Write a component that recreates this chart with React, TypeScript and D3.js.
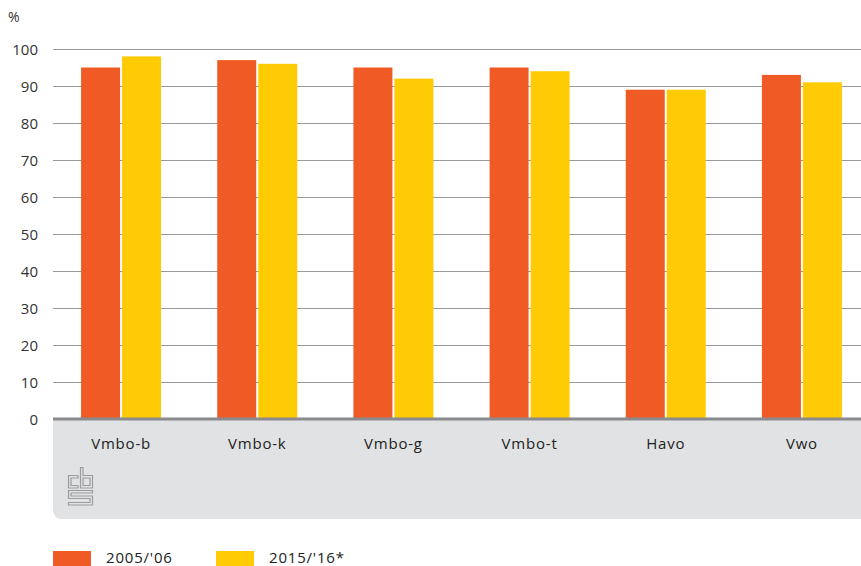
import React from "react";
import * as d3 from "d3";

const categories = ["Vmbo-b", "Vmbo-k", "Vmbo-g", "Vmbo-t", "Havo", "Vwo"];
const series2005 = [95, 97, 95, 95, 89, 93];
const series2015 = [98, 96, 92, 94, 89, 91];
const seriesNames = ["2005/'06", "2015/'16*"];
const yTicks = [0, 10, 20, 30, 40, 50, 60, 70, 80, 90, 100];

const W = 861;
const H = 566;
const FONT = "'Open Sans', 'DejaVu Sans', sans-serif";

export default function App() {
  const x = d3.scaleBand<string>().domain(categories).range([53, 870]).paddingInner(0).paddingOuter(0);
  const y = d3.scaleLinear().domain([0, 100]).range([419, 49]);
  const barW = 39;
  const gap = 2;
  const colors = ["#f05a24", "#ffcb05"];

  return (
    <svg width={W} height={H} style={{ position: "absolute", left: 0, top: 0 }} fontFamily={FONT}>
      <rect x={0} y={0} width={W} height={H} fill="#fff" />
      {/* grey label box */}
      <path d={`M53,420 H${W} V519 H63 Q53,519 53,509 Z`} fill="#e1e2e4" />
      {/* gridlines */}
      {yTicks.filter((t) => t > 0).map((t) => (
        <line key={t} x1={53} x2={W} y1={y(t) + 0.5} y2={y(t) + 0.5} stroke="#9a9a9a" strokeWidth={1} />
      ))}
      {yTicks.map((t) => (
        <text key={"l" + t} x={38} y={y(t) + 6} textAnchor="end" fontSize={15} fill="#333">{t}</text>
      ))}
      <text x={8} y={22} fontSize={14} fill="#333">%</text>
      {/* bars */}
      {categories.map((c, i) => {
        const cx = (x(c) as number) + x.bandwidth() / 2;
        return (
          <g key={c}>
            <rect x={cx - gap / 2 - barW} y={y(series2005[i])} width={barW} height={y(0) - y(series2005[i])} fill={colors[0]} />
            <rect x={cx + gap / 2} y={y(series2015[i])} width={barW} height={y(0) - y(series2015[i])} fill={colors[1]} />
            <text x={cx} y={449} textAnchor="middle" fontSize={15} fill="#222" letterSpacing={0.8}>{c}</text>
          </g>
        );
      })}
      {/* zero axis */}
      <line x1={53} x2={W} y1={419} y2={419} stroke="#8a8a8e" strokeWidth={3} />
      {/* CBS logo approx */}
      <g fill="none" stroke="#9c9c9c" strokeWidth={1.2}>
        <path d="M78,475.5 H68.5 V488 H78 V485.5 H71 V478 H78 Z" />
        <path d="M80.5,467.5 H83 V475.5 H92.5 V488 H80.5 Z M83,478 V485.5 H90 V478 Z" />
        <path d="M68.5,490.5 H92.5 V493 H71 V496 H92.5 V505 H68.5 V502.5 H90 V498.5 H68.5 Z" />
      </g>
      {/* legend */}
      <rect x={53} y={551} width={38} height={16} fill={colors[0]} />
      <text x={106} y={563} fontSize={15} fill="#222" letterSpacing={0.8}>{seriesNames[0]}</text>
      <rect x={216} y={551} width={38} height={16} fill={colors[1]} />
      <text x={269} y={563} fontSize={15} fill="#222" letterSpacing={0.8}>{seriesNames[1]}</text>
    </svg>
  );
}
